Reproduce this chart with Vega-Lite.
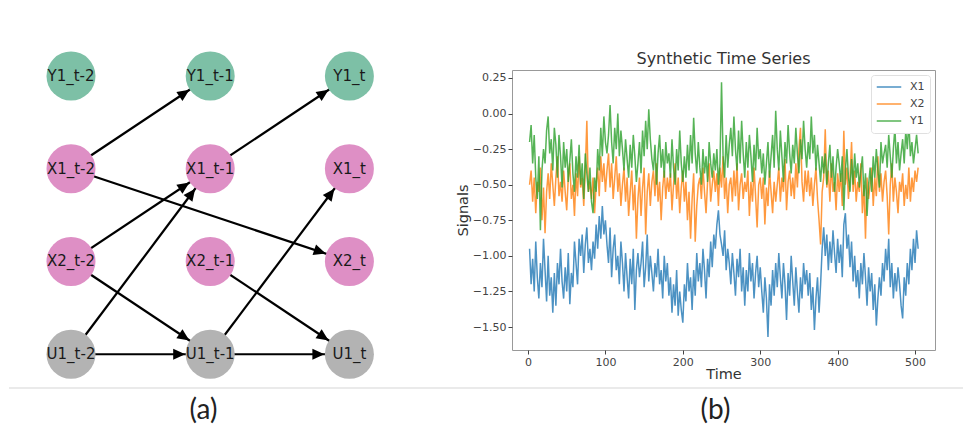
{
"$schema": "https://vega.github.io/schema/vega-lite/v6.json",
"background": "white",
"padding": {"left": 8, "top": 50, "right": 8, "bottom": 5},
"config": {"view": {"stroke": null}, "font": "DejaVu Sans"},
"resolve": {"scale": {"color": "independent", "x": "independent", "y": "independent"}},
"datasets": {
"nodes": [
{"n":"Y1_t-2","c":0,"r":0,"k":"Y"},{"n":"Y1_t-1","c":1,"r":0,"k":"Y"},{"n":"Y1_t","c":2,"r":0,"k":"Y"},
{"n":"X1_t-2","c":0,"r":1,"k":"X"},{"n":"X1_t-1","c":1,"r":1,"k":"X"},{"n":"X1_t","c":2,"r":1,"k":"X"},
{"n":"X2_t-2","c":0,"r":2,"k":"X"},{"n":"X2_t-1","c":1,"r":2,"k":"X"},{"n":"X2_t","c":2,"r":2,"k":"X"},
{"n":"U1_t-2","c":0,"r":3,"k":"U"},{"n":"U1_t-1","c":1,"r":3,"k":"U"},{"n":"U1_t","c":2,"r":3,"k":"U"}
],
"edges": [
{"sc":0,"sr":1,"tc":1,"tr":0,"ang":-33.68},
{"sc":1,"sr":1,"tc":2,"tr":0,"ang":-33.68},
{"sc":0,"sr":1,"tc":2,"tr":2,"ang":18.43},
{"sc":0,"sr":2,"tc":1,"tr":1,"ang":-33.68},
{"sc":0,"sr":3,"tc":1,"tr":1,"ang":-53.12},
{"sc":0,"sr":2,"tc":1,"tr":3,"ang":33.68},
{"sc":0,"sr":3,"tc":1,"tr":3,"ang":0},
{"sc":1,"sr":3,"tc":2,"tr":1,"ang":-53.12},
{"sc":1,"sr":2,"tc":2,"tr":3,"ang":33.68},
{"sc":1,"sr":3,"tc":2,"tr":3,"ang":0}
],
"ts": [
{"t":2,"X1":-0.95,"X2":-0.5,"Y1":-0.2},{"t":4,"X1":-1.2,"X2":-0.4,"Y1":-0.08},{"t":6,"X1":-1.02,"X2":-0.62,"Y1":-0.35},{"t":8,"X1":-1.25,"X2":-0.45,"Y1":-0.15},{"t":10,"X1":-0.9,"X2":-0.7,"Y1":-0.45},{"t":12,"X1":-1.15,"X2":-0.48,"Y1":-0.6},{"t":14,"X1":-1.3,"X2":-0.55,"Y1":-0.3},{"t":16,"X1":-1.05,"X2":-0.38,"Y1":-0.82},{"t":18,"X1":-1.22,"X2":-0.75,"Y1":-0.4},{"t":20,"X1":-0.88,"X2":-0.52,"Y1":-0.25},
{"t":22,"X1":-1.1,"X2":-0.84,"Y1":-0.35},{"t":24,"X1":-1.32,"X2":-0.55,"Y1":-0.12},{"t":26,"X1":-1.0,"X2":-0.42,"Y1":-0.02},{"t":28,"X1":-1.28,"X2":-0.6,"Y1":-0.28},{"t":30,"X1":-1.15,"X2":-0.35,"Y1":-0.18},{"t":32,"X1":-1.4,"X2":-0.5,"Y1":-0.4},{"t":34,"X1":-1.12,"X2":-0.65,"Y1":-0.1},{"t":36,"X1":-1.35,"X2":-0.45,"Y1":-0.22},{"t":38,"X1":-1.05,"X2":-0.3,"Y1":-0.45},{"t":40,"X1":-1.2,"X2":-0.58,"Y1":-0.15},
{"t":42,"X1":-0.95,"X2":-0.48,"Y1":-0.3},{"t":44,"X1":-1.18,"X2":-0.62,"Y1":-0.52},{"t":46,"X1":-1.3,"X2":-0.4,"Y1":-0.2},{"t":48,"X1":-1.08,"X2":-0.55,"Y1":-0.38},{"t":50,"X1":-1.25,"X2":-0.68,"Y1":-0.25},{"t":52,"X1":-0.98,"X2":-0.45,"Y1":-0.48},{"t":54,"X1":-1.34,"X2":-0.35,"Y1":-0.33},{"t":56,"X1":-1.12,"X2":-0.6,"Y1":-0.18},{"t":58,"X1":-1.22,"X2":-0.5,"Y1":-0.42},{"t":60,"X1":-0.9,"X2":-0.72,"Y1":-0.55},
{"t":62,"X1":-1.05,"X2":-0.42,"Y1":-0.3},{"t":64,"X1":-1.2,"X2":-0.58,"Y1":-0.45},{"t":66,"X1":-0.88,"X2":-0.3,"Y1":-0.22},{"t":68,"X1":-1.0,"X2":-0.52,"Y1":-0.5},{"t":70,"X1":-0.85,"X2":-0.45,"Y1":-0.35},{"t":72,"X1":-1.12,"X2":-0.65,"Y1":-0.6},{"t":74,"X1":-0.92,"X2":-0.4,"Y1":-0.28},{"t":76,"X1":-0.8,"X2":-0.05,"Y1":-0.42},{"t":78,"X1":-1.05,"X2":-0.55,"Y1":-0.55},{"t":80,"X1":-0.95,"X2":-0.48,"Y1":-0.38},
{"t":82,"X1":-1.1,"X2":-0.6,"Y1":-0.62},{"t":84,"X1":-0.9,"X2":-0.45,"Y1":-0.7},{"t":86,"X1":-1.02,"X2":-0.7,"Y1":-0.45},{"t":88,"X1":-0.78,"X2":-0.5,"Y1":-0.55},{"t":90,"X1":-0.95,"X2":-0.38,"Y1":-0.25},{"t":92,"X1":-0.72,"X2":-0.58,"Y1":-0.4},{"t":94,"X1":-0.88,"X2":-0.3,"Y1":-0.1},{"t":96,"X1":-0.65,"X2":-0.48,"Y1":-0.3},{"t":98,"X1":-0.85,"X2":-0.35,"Y1":-0.02},{"t":100,"X1":-0.75,"X2":-0.55,"Y1":-0.2},
{"t":102,"X1":-0.92,"X2":-0.4,"Y1":-0.28},{"t":104,"X1":-1.05,"X2":-0.28,"Y1":-0.15},{"t":106,"X1":-0.8,"X2":-0.52,"Y1":0.06},{"t":108,"X1":-1.15,"X2":-0.35,"Y1":-0.2},{"t":110,"X1":-0.95,"X2":-0.6,"Y1":-0.35},{"t":112,"X1":-0.85,"X2":-0.45,"Y1":-0.1},{"t":114,"X1":-1.1,"X2":-0.3,"Y1":-0.25},{"t":116,"X1":-1.0,"X2":-0.55,"Y1":0.0},{"t":118,"X1":-1.2,"X2":-0.42,"Y1":-0.3},{"t":120,"X1":-0.9,"X2":-0.65,"Y1":-0.12},
{"t":122,"X1":-1.05,"X2":-0.5,"Y1":-0.25},{"t":124,"X1":-1.25,"X2":-0.38,"Y1":-0.4},{"t":126,"X1":-0.98,"X2":-0.62,"Y1":-0.18},{"t":128,"X1":-1.15,"X2":-0.45,"Y1":-0.32},{"t":130,"X1":-1.3,"X2":-0.72,"Y1":-0.45},{"t":132,"X1":-1.02,"X2":-0.55,"Y1":-0.22},{"t":134,"X1":-1.2,"X2":-0.4,"Y1":-0.38},{"t":136,"X1":-0.95,"X2":-0.68,"Y1":-0.15},{"t":138,"X1":-1.38,"X2":-0.5,"Y1":-0.3},{"t":140,"X1":-1.1,"X2":-0.88,"Y1":-0.48},
{"t":142,"X1":-0.98,"X2":-0.6,"Y1":-0.35},{"t":144,"X1":-1.15,"X2":-0.45,"Y1":-0.2},{"t":146,"X1":-1.05,"X2":-0.72,"Y1":-0.42},{"t":148,"X1":-0.9,"X2":-0.52,"Y1":-0.12},{"t":150,"X1":-1.22,"X2":-0.38,"Y1":-0.3},{"t":152,"X1":-1.08,"X2":-0.85,"Y1":-0.05},{"t":154,"X1":-0.85,"X2":-0.55,"Y1":-0.25},{"t":156,"X1":-1.18,"X2":-0.42,"Y1":0.03},{"t":158,"X1":-1.0,"X2":-0.65,"Y1":-0.18},{"t":160,"X1":-1.12,"X2":-0.48,"Y1":-0.32},
{"t":162,"X1":-1.25,"X2":-0.4,"Y1":-0.4},{"t":164,"X1":-1.05,"X2":-0.58,"Y1":-0.22},{"t":166,"X1":-1.15,"X2":-0.35,"Y1":-0.5},{"t":168,"X1":-0.95,"X2":-0.62,"Y1":-0.28},{"t":170,"X1":-1.2,"X2":-0.48,"Y1":-0.15},{"t":172,"X1":-1.1,"X2":-0.75,"Y1":-0.38},{"t":174,"X1":-1.3,"X2":-0.52,"Y1":-0.25},{"t":176,"X1":-1.0,"X2":-0.4,"Y1":-0.45},{"t":178,"X1":-1.18,"X2":-0.6,"Y1":-0.2},{"t":180,"X1":-1.05,"X2":-0.45,"Y1":-0.35},
{"t":182,"X1":-1.28,"X2":-0.55,"Y1":-0.28},{"t":184,"X1":-1.15,"X2":-0.42,"Y1":-0.45},{"t":186,"X1":-1.4,"X2":-0.68,"Y1":-0.18},{"t":188,"X1":-1.2,"X2":-0.5,"Y1":-0.38},{"t":190,"X1":-1.35,"X2":-0.35,"Y1":-0.5},{"t":192,"X1":-1.1,"X2":-0.6,"Y1":-0.25},{"t":194,"X1":-1.42,"X2":-0.45,"Y1":-0.4},{"t":196,"X1":-1.25,"X2":-0.7,"Y1":-0.12},{"t":198,"X1":-1.38,"X2":-0.52,"Y1":-0.35},{"t":200,"X1":-1.47,"X2":-0.4,"Y1":-0.48},
{"t":202,"X1":-1.2,"X2":-0.62,"Y1":-0.3},{"t":204,"X1":-1.32,"X2":-0.48,"Y1":-0.45},{"t":206,"X1":-1.05,"X2":-0.75,"Y1":-0.22},{"t":208,"X1":-1.25,"X2":-0.55,"Y1":-0.4},{"t":210,"X1":-1.15,"X2":-0.88,"Y1":-0.15},{"t":212,"X1":-1.38,"X2":-0.6,"Y1":-0.35},{"t":214,"X1":-1.1,"X2":-0.42,"Y1":-0.03},{"t":216,"X1":-1.28,"X2":-0.9,"Y1":-0.28},{"t":218,"X1":-0.98,"X2":-0.65,"Y1":-0.42},{"t":220,"X1":-1.18,"X2":-0.5,"Y1":-0.2},
{"t":222,"X1":-1.05,"X2":-0.45,"Y1":-0.38},{"t":224,"X1":-1.22,"X2":-0.6,"Y1":-0.5},{"t":226,"X1":-0.95,"X2":-0.38,"Y1":-0.25},{"t":228,"X1":-1.1,"X2":-0.55,"Y1":-0.42},{"t":230,"X1":-1.3,"X2":-0.7,"Y1":-0.3},{"t":232,"X1":-1.02,"X2":-0.48,"Y1":-0.48},{"t":234,"X1":-1.15,"X2":-0.35,"Y1":-0.2},{"t":236,"X1":-0.9,"X2":-0.62,"Y1":-0.35},{"t":238,"X1":-1.08,"X2":-0.5,"Y1":-0.45},{"t":240,"X1":-0.85,"X2":-0.4,"Y1":-0.28},
{"t":242,"X1":-0.95,"X2":-0.55,"Y1":-0.4},{"t":244,"X1":-0.78,"X2":-0.42,"Y1":-0.25},{"t":246,"X1":-0.68,"X2":-0.65,"Y1":-0.5},{"t":248,"X1":-0.85,"X2":-0.38,"Y1":-0.35},{"t":250,"X1":-0.92,"X2":-0.52,"Y1":0.22},{"t":252,"X1":-1.0,"X2":-0.3,"Y1":-0.3},{"t":254,"X1":-0.82,"X2":-0.6,"Y1":-0.45},{"t":256,"X1":-1.1,"X2":-0.45,"Y1":-0.15},{"t":258,"X1":-0.95,"X2":-0.7,"Y1":-0.38},{"t":260,"X1":-1.05,"X2":-0.5,"Y1":-0.22},
{"t":262,"X1":-1.2,"X2":-0.45,"Y1":-0.1},{"t":264,"X1":-0.98,"X2":-0.62,"Y1":-0.3},{"t":266,"X1":-1.12,"X2":-0.4,"Y1":-0.02},{"t":268,"X1":-1.28,"X2":-0.58,"Y1":-0.25},{"t":270,"X1":-1.02,"X2":-0.35,"Y1":-0.4},{"t":272,"X1":-1.15,"X2":-0.68,"Y1":-0.12},{"t":274,"X1":-0.95,"X2":-0.5,"Y1":-0.35},{"t":276,"X1":-1.25,"X2":-0.42,"Y1":-0.05},{"t":278,"X1":-1.08,"X2":-0.6,"Y1":-0.28},{"t":280,"X1":-1.35,"X2":-0.48,"Y1":-0.45},
{"t":282,"X1":-1.1,"X2":-0.55,"Y1":-0.2},{"t":284,"X1":-1.25,"X2":-0.4,"Y1":-0.38},{"t":286,"X1":-0.98,"X2":-0.72,"Y1":-0.15},{"t":288,"X1":-1.18,"X2":-0.48,"Y1":-0.3},{"t":290,"X1":-1.05,"X2":-0.62,"Y1":-0.48},{"t":292,"X1":-1.3,"X2":-0.38,"Y1":-0.22},{"t":294,"X1":-1.12,"X2":-0.58,"Y1":-0.4},{"t":296,"X1":-1.0,"X2":-0.8,"Y1":-0.1},{"t":298,"X1":-1.22,"X2":-0.5,"Y1":-0.32},{"t":300,"X1":-1.08,"X2":-0.45,"Y1":-0.25},
{"t":302,"X1":-1.25,"X2":-0.6,"Y1":-0.42},{"t":304,"X1":-1.4,"X2":-0.45,"Y1":-0.28},{"t":306,"X1":-1.15,"X2":-0.78,"Y1":-0.5},{"t":308,"X1":-1.3,"X2":-0.52,"Y1":-0.35},{"t":310,"X1":-1.57,"X2":-0.65,"Y1":-0.2},{"t":312,"X1":-1.2,"X2":-0.4,"Y1":-0.45},{"t":314,"X1":-1.35,"X2":-0.55,"Y1":-0.3},{"t":316,"X1":-1.1,"X2":-0.7,"Y1":-0.15},{"t":318,"X1":-1.28,"X2":-0.48,"Y1":-0.38},{"t":320,"X1":-1.05,"X2":-0.62,"Y1":0.02},
{"t":322,"X1":-1.22,"X2":-0.5,"Y1":-0.25},{"t":324,"X1":-0.98,"X2":-0.38,"Y1":-0.4},{"t":326,"X1":-1.15,"X2":-0.62,"Y1":-0.12},{"t":328,"X1":-1.3,"X2":-0.45,"Y1":-0.3},{"t":330,"X1":-1.05,"X2":-0.55,"Y1":-0.48},{"t":332,"X1":-1.2,"X2":-0.32,"Y1":-0.2},{"t":334,"X1":-1.45,"X2":-0.68,"Y1":-0.35},{"t":336,"X1":-1.12,"X2":-0.48,"Y1":-0.08},{"t":338,"X1":-1.28,"X2":-0.4,"Y1":-0.28},{"t":340,"X1":-1.0,"X2":-0.58,"Y1":-0.42},
{"t":342,"X1":-1.18,"X2":-0.45,"Y1":-0.22},{"t":344,"X1":-1.35,"X2":-0.6,"Y1":-0.35},{"t":346,"X1":-1.08,"X2":-0.35,"Y1":-0.1},{"t":348,"X1":-1.25,"X2":-0.52,"Y1":-0.28},{"t":350,"X1":-1.4,"X2":-0.25,"Y1":-0.42},{"t":352,"X1":-1.15,"X2":-0.1,"Y1":-0.18},{"t":354,"X1":-1.3,"X2":-0.48,"Y1":-0.32},{"t":356,"X1":-1.05,"X2":-0.62,"Y1":-0.05},{"t":358,"X1":-1.2,"X2":-0.4,"Y1":-0.25},{"t":360,"X1":-1.1,"X2":-0.55,"Y1":-0.38},
{"t":362,"X1":-1.28,"X2":-0.4,"Y1":-0.2},{"t":364,"X1":-1.12,"X2":-0.58,"Y1":-0.32},{"t":366,"X1":-1.38,"X2":-0.45,"Y1":-0.02},{"t":368,"X1":-1.22,"X2":-0.65,"Y1":-0.28},{"t":370,"X1":-1.52,"X2":-0.5,"Y1":-0.15},{"t":372,"X1":-1.3,"X2":-0.38,"Y1":-0.4},{"t":374,"X1":-1.15,"X2":-0.6,"Y1":-0.22},{"t":376,"X1":-1.4,"X2":-0.75,"Y1":-0.35},{"t":378,"X1":-1.2,"X2":-0.92,"Y1":-0.48},{"t":380,"X1":-0.95,"X2":-0.55,"Y1":-0.3},
{"t":382,"X1":-0.8,"X2":-0.45,"Y1":-0.42},{"t":384,"X1":-1.0,"X2":-0.11,"Y1":-0.28},{"t":386,"X1":-0.85,"X2":-0.52,"Y1":-0.5},{"t":388,"X1":-1.1,"X2":-0.4,"Y1":-0.35},{"t":390,"X1":-0.9,"X2":-0.62,"Y1":-0.22},{"t":392,"X1":-1.05,"X2":-0.35,"Y1":-0.45},{"t":394,"X1":-0.82,"X2":-0.55,"Y1":-0.3},{"t":396,"X1":-0.98,"X2":-0.48,"Y1":-0.55},{"t":398,"X1":-1.12,"X2":-0.68,"Y1":-0.38},{"t":400,"X1":-0.88,"X2":-0.42,"Y1":-0.25},
{"t":402,"X1":-1.05,"X2":-0.55,"Y1":-0.35},{"t":404,"X1":-0.92,"X2":-0.42,"Y1":-0.48},{"t":406,"X1":-1.15,"X2":-0.65,"Y1":-0.3},{"t":408,"X1":-0.78,"X2":-0.12,"Y1":-0.68},{"t":410,"X1":-0.7,"X2":-0.5,"Y1":-0.4},{"t":412,"X1":-0.95,"X2":-0.38,"Y1":-0.25},{"t":414,"X1":-0.85,"X2":-0.6,"Y1":-0.45},{"t":416,"X1":-1.08,"X2":-0.45,"Y1":-0.55},{"t":418,"X1":-0.9,"X2":-0.2,"Y1":-0.32},{"t":420,"X1":-1.18,"X2":-0.55,"Y1":-0.5},
{"t":422,"X1":-1.0,"X2":-0.4,"Y1":-0.28},{"t":424,"X1":-1.22,"X2":-0.62,"Y1":-0.45},{"t":426,"X1":-1.1,"X2":-0.48,"Y1":-0.35},{"t":428,"X1":-1.3,"X2":-0.55,"Y1":-0.52},{"t":430,"X1":-1.05,"X2":-0.35,"Y1":-0.4},{"t":432,"X1":-1.2,"X2":-0.7,"Y1":-0.3},{"t":434,"X1":-0.98,"X2":-0.5,"Y1":-0.58},{"t":436,"X1":-1.15,"X2":-0.88,"Y1":-0.42},{"t":438,"X1":-1.35,"X2":-0.45,"Y1":-0.72},{"t":440,"X1":-1.08,"X2":-0.6,"Y1":-0.5},
{"t":442,"X1":-1.25,"X2":-0.5,"Y1":-0.38},{"t":444,"X1":-1.12,"X2":-0.38,"Y1":-0.55},{"t":446,"X1":-1.38,"X2":-0.65,"Y1":-0.3},{"t":448,"X1":-1.2,"X2":-0.45,"Y1":-0.45},{"t":450,"X1":-1.49,"X2":-0.58,"Y1":-0.25},{"t":452,"X1":-1.3,"X2":-0.3,"Y1":-0.4},{"t":454,"X1":-1.15,"X2":-0.55,"Y1":-0.52},{"t":456,"X1":-1.28,"X2":-0.42,"Y1":-0.2},{"t":458,"X1":-1.05,"X2":-0.62,"Y1":-0.35},{"t":460,"X1":-1.18,"X2":-0.48,"Y1":-0.28},
{"t":462,"X1":-0.95,"X2":-0.4,"Y1":-0.22},{"t":464,"X1":-1.1,"X2":-0.58,"Y1":-0.38},{"t":466,"X1":-0.88,"X2":-0.85,"Y1":-0.15},{"t":468,"X1":-1.22,"X2":-0.5,"Y1":-0.3},{"t":470,"X1":-1.05,"X2":-0.35,"Y1":-0.45},{"t":472,"X1":-1.3,"X2":-0.62,"Y1":-0.25},{"t":474,"X1":-1.12,"X2":-0.45,"Y1":-0.1},{"t":476,"X1":-1.25,"X2":-0.55,"Y1":-0.35},{"t":478,"X1":-1.08,"X2":-0.7,"Y1":-0.2},{"t":480,"X1":-1.2,"X2":-0.48,"Y1":-0.4},
{"t":482,"X1":-1.35,"X2":-0.55,"Y1":-0.28},{"t":484,"X1":-1.44,"X2":-0.42,"Y1":-0.18},{"t":486,"X1":-1.15,"X2":-0.65,"Y1":-0.35},{"t":488,"X1":-1.28,"X2":-0.5,"Y1":-0.12},{"t":490,"X1":-1.05,"X2":-0.6,"Y1":-0.25},{"t":492,"X1":-1.2,"X2":-0.38,"Y1":-0.05},{"t":494,"X1":-0.95,"X2":-0.62,"Y1":-0.3},{"t":496,"X1":-1.1,"X2":-0.45,"Y1":-0.2},{"t":498,"X1":-0.88,"X2":-0.55,"Y1":-0.35},{"t":500,"X1":-1.05,"X2":-0.4,"Y1":-0.25},
{"t":502,"X1":-0.82,"X2":-0.48,"Y1":-0.15},{"t":504,"X1":-0.95,"X2":-0.38,"Y1":-0.28}
]
},
"columns": 2,
"bounds": "flush",
"align": "each",
"spacing": {"row": 38, "column": 0},
"concat": [
{
"width": 417, "height": 280,
"layer": [
{"data": {"name": "edges"}, "mark": {"type": "rule", "color": "#000000", "strokeWidth": 2.2},
 "encoding": {
  "x": {"field": "sc", "type": "quantitative", "scale": {"domain": [-0.4454, 2.5503], "nice": false, "zero": false}, "axis": null},
  "y": {"field": "sr", "type": "quantitative", "scale": {"domain": [-0.0647, 2.9542], "nice": false, "zero": false, "reverse": true}, "axis": null},
  "x2": {"field": "tc"}, "y2": {"field": "tr"}}},
{"data": {"name": "edges"}, "mark": {"type": "point", "shape": "M-0.625,0L-0.925,-0.1375L-0.925,0.1375Z", "filled": true, "color": "#000000", "opacity": 1, "size": 6400, "strokeWidth": 0},
 "encoding": {
  "x": {"field": "tc", "type": "quantitative", "scale": {"domain": [-0.4454, 2.5503], "nice": false, "zero": false}, "axis": null},
  "y": {"field": "tr", "type": "quantitative", "scale": {"domain": [-0.0647, 2.9542], "nice": false, "zero": false, "reverse": true}, "axis": null},
  "angle": {"field": "ang", "type": "quantitative", "scale": null}}},
{"data": {"name": "nodes"}, "mark": {"type": "circle", "size": 2401, "opacity": 1},
 "encoding": {
  "x": {"field": "c", "type": "quantitative", "scale": {"domain": [-0.4454, 2.5503], "nice": false, "zero": false}, "axis": null},
  "y": {"field": "r", "type": "quantitative", "scale": {"domain": [-0.0647, 2.9542], "nice": false, "zero": false, "reverse": true}, "axis": null},
  "color": {"field": "k", "type": "nominal", "scale": {"domain": ["Y", "X", "U"], "range": ["#7dc0a6", "#de8fc5", "#b3b3b3"]}, "legend": null}}},
{"data": {"name": "nodes"}, "mark": {"type": "text", "fontSize": 15, "color": "#1a1a1a", "font": "DejaVu Sans"},
 "encoding": {
  "x": {"field": "c", "type": "quantitative", "scale": {"domain": [-0.4454, 2.5503], "nice": false, "zero": false}, "axis": null},
  "y": {"field": "r", "type": "quantitative", "scale": {"domain": [-0.0647, 2.9542], "nice": false, "zero": false, "reverse": true}, "axis": null},
  "text": {"field": "n"}}}
]
},
{
"width": 423, "height": 280,
"view": {"stroke": "#999999", "strokeWidth": 1},
"title": {"text": "Synthetic Time Series", "fontSize": 16, "fontWeight": "normal", "color": "#333333", "offset": 3, "anchor": "middle", "font": "DejaVu Sans"},
"data": {"name": "ts"},
"transform": [{"fold": ["X1", "X2", "Y1"], "as": ["series", "value"]}],
"mark": {"type": "line", "strokeWidth": 1.5, "opacity": 0.8},
"encoding": {
 "x": {"field": "t", "type": "quantitative", "scale": {"domain": [-20.7, 525.8], "nice": false, "zero": false},
   "axis": {"values": [0, 100, 200, 300, 400, 500], "title": "Time", "grid": false, "domain": false, "tickColor": "#444444", "tickSize": 4, "labelFontSize": 11, "labelColor": "#444444", "labelPadding": 2, "titleFontSize": 14.5, "titleFontWeight": "normal", "titleColor": "#333333", "titlePadding": 0}},
 "y": {"field": "value", "type": "quantitative", "scale": {"domain": [-1.6615, 0.3062], "nice": false, "zero": false},
   "axis": {"values": [-1.5, -1.25, -1, -0.75, -0.5, -0.25, 0, 0.25], "format": ".2f", "title": "Signals", "grid": false, "domain": false, "tickColor": "#444444", "tickSize": 4, "labelFontSize": 11, "labelColor": "#444444", "labelPadding": 2, "titleFontSize": 14.5, "titleFontWeight": "normal", "titleColor": "#333333", "titlePadding": 2}},
 "color": {"field": "series", "type": "nominal", "scale": {"domain": ["X1", "X2", "Y1"], "range": ["#1f77b4", "#ff7f0e", "#2ca02c"]},
   "legend": {"orient": "top-right", "title": null, "offset": 5, "fillColor": "white", "strokeColor": "#e0e0e0", "cornerRadius": 3, "padding": 5, "symbolType": "stroke", "symbolSize": 600, "symbolStrokeWidth": 1.5, "labelFontSize": 11, "labelColor": "#444444", "rowPadding": 3, "clipHeight": 14, "labelOffset": 8}}
}
},
{
"width": 503, "height": 1,
"data": {"values": [{"s": 0}]},
"mark": {"type": "rule", "color": "#e3e3e3", "strokeWidth": 1.5},
"encoding": {"y": {"value": 0}},
"title": {"text": "(a)", "orient": "bottom", "fontSize": 28, "font": "Lato", "fontWeight": "normal", "color": "#222222", "dx": -57, "offset": 8, "anchor": "middle"}
},
{
"width": 451, "height": 1,
"data": {"values": [{"s": 0}]},
"mark": {"type": "rule", "color": "#e3e3e3", "strokeWidth": 1.5},
"encoding": {"y": {"value": 0}},
"title": {"text": "(b)", "orient": "bottom", "fontSize": 28, "font": "Lato", "fontWeight": "normal", "color": "#222222", "dx": -22, "offset": 8, "anchor": "middle"}
}
]
}
